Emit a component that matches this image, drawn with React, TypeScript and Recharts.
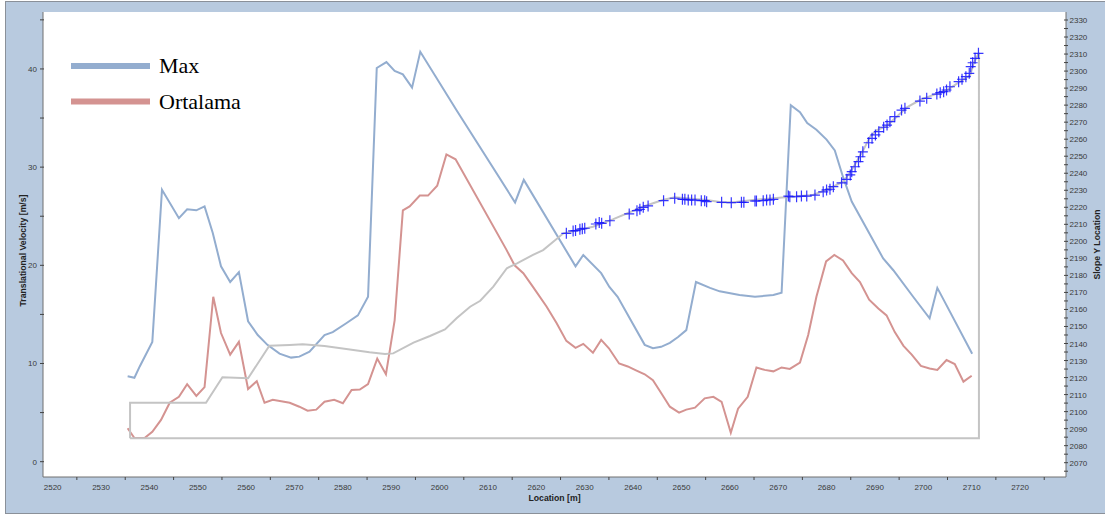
import { CartesianGrid, ComposedChart, Line, Scatter, XAxis, YAxis } from "recharts";

type Pt = [number, number];

// Location [m] / Translational velocity [m/s]
const maxSeries: Pt[] = [
  [2535.5, 8.7], [2536.9, 8.55], [2538, 9.7], [2540.6, 12.2], [2542.6, 27.7], [2546.1, 24.8],
  [2547.8, 25.7], [2549.7, 25.6], [2551.4, 26.0], [2553.1, 23.3], [2554.8, 19.9], [2556.7, 18.3],
  [2558.5, 19.3], [2560.4, 14.3], [2562.4, 12.9], [2564.4, 11.9], [2566.9, 11.0], [2569.3, 10.6],
  [2571, 10.7], [2573.1, 11.2], [2576.2, 12.9], [2577.9, 13.2], [2580.7, 14.1], [2583.1, 14.9],
  [2585.2, 16.8], [2587, 40.1], [2589, 40.7], [2590.7, 39.8], [2592.4, 39.45], [2594.3, 38.1],
  [2596, 41.75], [2603.5, 35.8], [2615.6, 26.4], [2617.4, 28.7], [2628.1, 19.9], [2629.7, 21.05],
  [2633.4, 19.2], [2635.1, 17.8], [2636.8, 16.8], [2642.4, 11.9], [2644.1, 11.55], [2645.8, 11.7],
  [2647.6, 12.1], [2649.3, 12.7], [2651, 13.4], [2653, 18.3], [2655.9, 17.7], [2657.9, 17.35],
  [2662, 16.97], [2665.2, 16.8], [2669, 16.97], [2670.7, 17.2], [2672.6, 36.3], [2674.5, 35.6],
  [2676, 34.5], [2677.9, 33.8], [2680, 32.8], [2681.7, 31.7], [2683.4, 29.0], [2685.2, 26.5],
  [2691.7, 20.7], [2693.8, 19.5], [2697.9, 16.8], [2701.3, 14.6], [2702.9, 17.7], [2710.1, 11.0],
];

const ortalamaSeries: Pt[] = [
  [2535.5, 3.4], [2536.9, 2.4], [2539, 2.4], [2540.6, 3.05], [2542.4, 4.25], [2544.2, 6.0],
  [2546.1, 6.6], [2547.8, 7.9], [2549.7, 6.7], [2551.4, 7.6], [2553.2, 16.8], [2554.8, 13.1],
  [2556.7, 10.9], [2558.5, 12.2], [2560.4, 7.4], [2562.2, 8.2], [2563.8, 6.0], [2565.5, 6.3],
  [2569, 6.0], [2571, 5.6], [2572.7, 5.2], [2574.5, 5.3], [2576.2, 6.1], [2578.2, 6.3],
  [2580, 5.95], [2581.8, 7.3], [2583.5, 7.35], [2585.2, 7.9], [2587.1, 10.5], [2588.9, 8.9],
  [2590.7, 14.4], [2592.4, 25.6], [2593.8, 26.0], [2595.9, 27.1], [2597.6, 27.1], [2599.5, 28.1],
  [2601.4, 31.3], [2603.3, 30.8], [2613.8, 21.6], [2615.5, 20.0], [2617.3, 19.2], [2619.3, 17.8],
  [2622.1, 15.8], [2624.2, 14.1], [2626.2, 12.3], [2628.1, 11.6], [2629.7, 12.0], [2631.7, 11.1],
  [2633.4, 12.4], [2635, 11.55], [2637.1, 10.0], [2638.9, 9.7], [2640.6, 9.3], [2642.4, 8.9],
  [2644.1, 8.3], [2645.8, 7.0], [2647.6, 5.6], [2649.5, 5.0], [2651, 5.3], [2652.8, 5.5],
  [2654.8, 6.45], [2656.6, 6.6], [2658.3, 6.1], [2660.2, 2.95], [2661.7, 5.4], [2663.7, 6.6],
  [2665.5, 9.6], [2667.2, 9.35], [2669, 9.2], [2670.7, 9.6], [2672.4, 9.45], [2674.5, 10.1],
  [2676.2, 12.9], [2677.9, 16.8], [2679.9, 20.4], [2681.6, 21.05], [2683.4, 20.5], [2685.2, 19.2],
  [2686.9, 18.3], [2688.8, 16.5], [2690.7, 15.6], [2692.4, 14.9], [2694.1, 13.2], [2695.9, 11.8],
  [2697.6, 10.9], [2699.5, 9.75], [2701.3, 9.5], [2702.9, 9.35], [2704.8, 10.35], [2706.5, 9.95],
  [2708.3, 8.15], [2710, 8.75],
];

// Location [m] / Slope Y location, closed outline as drawn
const slopeProfile: Pt[] = [
  [2536, 2084.3], [2536, 2105.2], [2551.7, 2105.2], [2555.1, 2120.2], [2560.4, 2119.6],
  [2564.8, 2138.7], [2569, 2139.1], [2571.7, 2139.5], [2576.2, 2138.5], [2580.7, 2136.8],
  [2585.5, 2134.8], [2588.7, 2133.8], [2590.4, 2134.2], [2594.6, 2140.5], [2598, 2144.4],
  [2601.1, 2148.3], [2603.5, 2154.8], [2606.3, 2161.6], [2608.4, 2165.1], [2611.1, 2173.4],
  [2613.9, 2184.2], [2616, 2187.1], [2619.3, 2192], [2621.4, 2194.9], [2625.6, 2204.7],
  [2631.7, 2208.6], [2635.8, 2212.9], [2642, 2220.3], [2646.1, 2224.3], [2648.6, 2225.9],
  [2655.2, 2224.3], [2658.3, 2222.9], [2660.7, 2222.9], [2664.8, 2224.3], [2671.4, 2225.9],
  [2677.2, 2227.2], [2680.7, 2231.2], [2683.4, 2235], [2685.2, 2241.9], [2687.6, 2253.6],
  [2689, 2261.5], [2690.4, 2265.4], [2692.4, 2267.7], [2694.5, 2273.2], [2696.6, 2278.7],
  [2699.3, 2283], [2702.1, 2286], [2704.9, 2288.9], [2707.6, 2293.8], [2709.7, 2297.7],
  [2710.4, 2304.6], [2711.5, 2310.8], [2711.5, 2084.3], [2536, 2084.3],
];

// measured slope points (blue crosses)
const slopePoints: Pt[] = [
  [2626.2, 2204.7], [2627.6, 2206.1], [2628.1, 2206.3], [2629, 2207.1], [2629.5, 2207.4],
  [2630, 2207.7], [2632.3, 2210.2], [2633, 2211], [2633.5, 2210.6], [2635.2, 2212.1],
  [2639.2, 2216.1], [2640.8, 2218], [2641.4, 2218.8], [2642.1, 2220], [2643.1, 2220.8],
  [2646.3, 2223.9], [2648.6, 2225.3], [2650.2, 2224.7], [2650.7, 2224.7], [2651.4, 2224.3],
  [2652.1, 2224.3], [2652.8, 2224.3], [2654.1, 2223.9], [2654.8, 2223.9], [2655.2, 2223.3],
  [2658.3, 2222.9], [2660.3, 2222.7], [2662.4, 2222.9], [2662.9, 2222.9], [2665.2, 2223.7],
  [2665.5, 2223.7], [2666.9, 2223.9], [2667.6, 2224.3], [2668.3, 2224.3], [2669, 2224.7],
  [2672.1, 2226.6], [2672.4, 2226.2], [2673.8, 2226.2], [2674.8, 2226.6], [2675.9, 2226.6],
  [2677.6, 2227.2], [2679.3, 2229.1], [2680, 2230.2], [2680.7, 2230.6], [2681.4, 2232.1],
  [2683.1, 2234.4], [2684.2, 2236.4], [2684.9, 2239], [2685.2, 2240.9], [2685.9, 2243.8],
  [2686.6, 2246.8], [2687, 2249.7], [2687.5, 2252.6], [2688.7, 2257.9], [2689.4, 2260.5],
  [2690.1, 2262.5], [2690.8, 2264.4], [2691.8, 2267], [2692.5, 2268.3], [2693.1, 2270.3],
  [2694.1, 2273.2], [2695.5, 2277.1], [2696.2, 2278.1], [2699.3, 2282.4], [2700.7, 2284],
  [2702.8, 2286.5], [2703.5, 2287.3], [2704.2, 2287.9], [2704.8, 2288.9], [2705.5, 2290.8],
  [2707.3, 2293.8], [2708, 2295.2], [2708.8, 2296.7], [2709.5, 2298.7], [2709.8, 2302.6],
  [2710.2, 2304.9], [2710.7, 2307.5], [2711.4, 2310.4],
];

const xTickLabels = [
  2520, 2530, 2540, 2550, 2560, 2570, 2580, 2590, 2600, 2610, 2620, 2630, 2640, 2650, 2660, 2670,
  2680, 2690, 2700, 2710, 2720,
];
const xMinorTicks = [
  2525, 2535, 2545, 2555, 2565, 2575, 2585, 2595, 2605, 2615, 2625, 2635, 2645, 2655, 2665, 2675,
  2685, 2695, 2705, 2715, 2725,
];
const leftTickLabels = [0, 10, 20, 30, 40];
const leftMinorTicks = [5, 15, 25, 35, 45];
const rightTickLabels = [
  2070, 2080, 2090, 2100, 2110, 2120, 2130, 2140, 2150, 2160, 2170, 2180, 2190, 2200, 2210, 2220,
  2230, 2240, 2250, 2260, 2270, 2280, 2290, 2300, 2310, 2320, 2330,
];
const rightMinorTicks = [
  2065, 2075, 2085, 2095, 2105, 2115, 2125, 2135, 2145, 2155, 2165, 2175, 2185, 2195, 2205, 2215,
  2225, 2235, 2245, 2255, 2265, 2275, 2285, 2295, 2305, 2315, 2325,
];

const MAX_COLOR = "#93adcf";
const AVG_COLOR = "#d49391";
const SLOPE_COLOR = "#c4c4c4";
const CROSS_COLOR = "#1414ff";
const AXIS_COLOR = "#707070";
const TICK_FONT = { fontFamily: "'Liberation Sans', Arial, sans-serif", fontSize: 8, fill: "#3a3a3a" };
const TITLE_FONT = { fontFamily: "'Liberation Sans', Arial, sans-serif", fontSize: 8.7, fontWeight: 700, fill: "#222" };

const toRows = (pts: Pt[]) => pts.map(([x, y]) => ({ x, y }));
const sortTicks = (a: number[], b: number[]) => [...a, ...b].sort((p, q) => p - q);

function XTick(props: any) {
  const { x, y, payload } = props;
  if (xTickLabels.includes(payload.value)) {
    return (
      <text x={x} y={y + 12.5} textAnchor="middle" {...TICK_FONT}>
        {payload.value}
      </text>
    );
  }
  return <line x1={x} x2={x} y1={y} y2={y + 3} stroke="#444" />;
}

function LeftTick(props: any) {
  const { x, y, payload } = props;
  return (
    <g>
      <line x1={x - 3} x2={x + 1} y1={y} y2={y} stroke="#444" />
      {leftTickLabels.includes(payload.value) && (
        <text x={x - 6} y={y + 3} textAnchor="end" {...TICK_FONT}>
          {payload.value}
        </text>
      )}
    </g>
  );
}

function RightTick(props: any) {
  const { x, y, payload } = props;
  return (
    <g>
      <line x1={x - 2} x2={x + 2} y1={y} y2={y} stroke="#444" />
      {rightTickLabels.includes(payload.value) && (
        <text x={x + 3.5} y={y + 3} textAnchor="start" {...TICK_FONT}>
          {payload.value}
        </text>
      )}
    </g>
  );
}

function AxisTitle(props: any) {
  const { text, side } = props;
  const vb = props.viewBox ?? {};
  if (side === "bottom") {
    const cx = (vb.x ?? 43) + (vb.width ?? 1023) / 2;
    const cy = (vb.y ?? 477) + 24;
    return (
      <text x={cx} y={cy} textAnchor="middle" {...TITLE_FONT}>
        {text}
      </text>
    );
  }
  const cy = (vb.y ?? 12) + (vb.height ?? 465) / 2 + (side === "left" ? 6 : 0);
  const cx = side === "left" ? (vb.x ?? 0) + 23 : (vb.x ?? 1066) + 31;
  return (
    <text
      x={cx}
      y={cy}
      transform={`rotate(-90 ${cx} ${cy})`}
      textAnchor="middle"
      dominantBaseline="central"
      {...TITLE_FONT}
    >
      {text}
    </text>
  );
}

function Cross(props: any) {
  const { cx, cy } = props;
  return (
    <path
      d={`M${cx - 5},${cy}H${cx + 5}M${cx},${cy - 5.5}V${cy + 5.5}`}
      stroke={CROSS_COLOR}
      strokeWidth={1.2}
      strokeOpacity={0.85}
      fill="none"
    />
  );
}

const legendItems = [
  { name: "Max", color: MAX_COLOR },
  { name: "Ortalama", color: AVG_COLOR },
];

export default function App() {
  return (
    <div style={{ position: "absolute", left: 0, top: 0, width: 1105, height: 515, overflow: "hidden", background: "#fff" }}>
      <div
        style={{
          position: "absolute",
          left: 5,
          top: 1,
          width: 1100,
          height: 511,
          background: "#b8cadf",
          borderTop: "1px solid #8a9099",
          borderLeft: "1px solid #8a9099",
          borderBottom: "1px solid #8a9099",
        }}
      />
      <div style={{ position: "absolute", left: 0, top: 0 }}>
        <ComposedChart width={1105} height={515} margin={{ top: 12, right: 0, bottom: 0, left: 0 }}>
          <CartesianGrid fill="#ffffff" horizontal={false} vertical={false} stroke="none" />
          <XAxis
            dataKey="x"
            type="number"
            domain={[2518, 2729.5]}
            allowDataOverflow
            ticks={sortTicks(xTickLabels, xMinorTicks)}
            interval={0}
            height={38}
            tickSize={0}
            tickMargin={0}
            tickLine={false}
            tick={<XTick />}
            axisLine={{ stroke: AXIS_COLOR }}
            label={<AxisTitle text="Location [m]" side="bottom" />}
          />
          <YAxis
            yAxisId="v"
            type="number"
            domain={[-1.56, 45.8]}
            allowDataOverflow
            ticks={sortTicks(leftTickLabels, leftMinorTicks)}
            interval={0}
            width={43}
            tickSize={0}
            tickMargin={0}
            tickLine={false}
            tick={<LeftTick />}
            axisLine={{ stroke: AXIS_COLOR }}
            label={<AxisTitle text="Translational Velocity [m/s]" side="left" />}
          />
          <YAxis
            yAxisId="s"
            orientation="right"
            type="number"
            domain={[2061.6, 2334.7]}
            allowDataOverflow
            ticks={sortTicks(rightTickLabels, rightMinorTicks)}
            interval={0}
            width={39}
            tickSize={0}
            tickMargin={0}
            tickLine={false}
            tick={<RightTick />}
            axisLine={{ stroke: AXIS_COLOR }}
            label={<AxisTitle text="Slope Y Location" side="right" />}
          />
          <Scatter
            yAxisId="s"
            name="Slope"
            data={toRows(slopeProfile)}
            dataKey="y"
            line={{ stroke: SLOPE_COLOR, strokeWidth: 2 }}
            lineType="joint"
            lineJointType="linear"
            shape={() => <g />}
            isAnimationActive={false}
          />
          <Line
            yAxisId="v"
            name="Max"
            data={toRows(maxSeries)}
            dataKey="y"
            type="linear"
            stroke={MAX_COLOR}
            strokeWidth={2}
            dot={false}
            isAnimationActive={false}
          />
          <Line
            yAxisId="v"
            name="Ortalama"
            data={toRows(ortalamaSeries)}
            dataKey="y"
            type="linear"
            stroke={AVG_COLOR}
            strokeWidth={2}
            dot={false}
            isAnimationActive={false}
          />
          <Scatter
            yAxisId="s"
            name="Slope points"
            data={toRows(slopePoints)}
            dataKey="y"
            shape={<Cross />}
            isAnimationActive={false}
          />
        </ComposedChart>
      </div>
      <svg width={300} height={130} style={{ position: "absolute", left: 0, top: 0, pointerEvents: "none" }}>
        {legendItems.map((item, i) => (
          <g key={item.name}>
            <rect x={71} y={63 + i * 35.5} width={79} height={6} fill={item.color} />
            <text
              x={159}
              y={73.3 + i * 36}
              fontFamily="'Liberation Serif', 'Times New Roman', serif"
              fontSize={22}
              fill="#000"
            >
              {item.name}
            </text>
          </g>
        ))}
      </svg>
    </div>
  );
}
